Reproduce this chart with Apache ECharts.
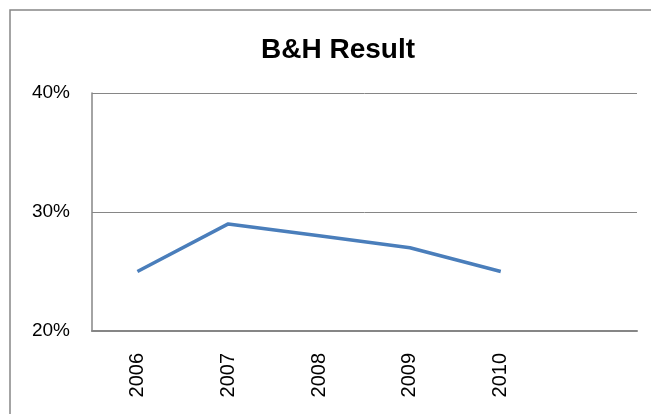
<!DOCTYPE html>
<html>
<head>
<meta charset="utf-8">
<script src="https://cdn.jsdelivr.net/npm/echarts@6/dist/echarts.min.js"></script>
<style>
  html, body { margin: 0; padding: 0; background: #fff; }
  #chart { width: 651px; height: 414px; }
</style>
</head>
<body>
<div id="chart"></div>
<script>
// years on the x axis, last slot is left empty like the original
const years = ['2006', '2007', '2008', '2009', '2010', ''];
// B&H result in percent
const bhResult = [25, 29, 28, 27, 25];
const yTicks = { min: 20, max: 40, step: 10 };

const chart = echarts.init(document.getElementById('chart'));

const axisGray = '#868686';
const font = 'Liberation Sans';

let option = {
  backgroundColor: '#fff',
  animation: false,
  title: {
    text: 'B&H Result',
    left: 333,
    top: 31,
    textAlign: 'center',
    textStyle: {
      fontFamily: font,
      fontWeight: 'bold',
      fontSize: 28,
      color: '#000'
    }
  },
  graphic: [{
    type: 'rect',
    shape: { x: 10, y: 10, width: 660, height: 430 },
    style: { fill: 'none', stroke: axisGray, lineWidth: 1.5 },
    silent: true
  }],
  grid: {
    left: 92,
    right: 14,
    top: 93,
    bottom: 83
  },
  xAxis: {
    type: 'category',
    data: years,
    boundaryGap: true,
    axisLine: { show: true, lineStyle: { color: axisGray, width: 2 } },
    axisTick: { show: false },
    axisLabel: {
      rotate: 90,
      margin: 22,
      fontFamily: font,
      fontSize: 20,
      color: '#000'
    }
  },
  yAxis: {
    type: 'value',
    min: yTicks.min,
    max: yTicks.max,
    interval: yTicks.step,
    axisLine: { show: true, lineStyle: { color: axisGray, width: 1.5 } },
    axisTick: { show: false },
    splitLine: { show: true, lineStyle: { color: axisGray, width: 1 } },
    axisLabel: {
      formatter: '{value}%',
      margin: 22,
      fontFamily: font,
      fontSize: 19,
      color: '#000'
    }
  },
  series: [{
    name: 'B&H Result',
    type: 'line',
    data: bhResult,
    showSymbol: false,
    symbol: 'none',
    lineStyle: { color: '#4a7ebb', width: 3.5 }
  }]
};

chart.setOption(option);
</script>
</body>
</html>
